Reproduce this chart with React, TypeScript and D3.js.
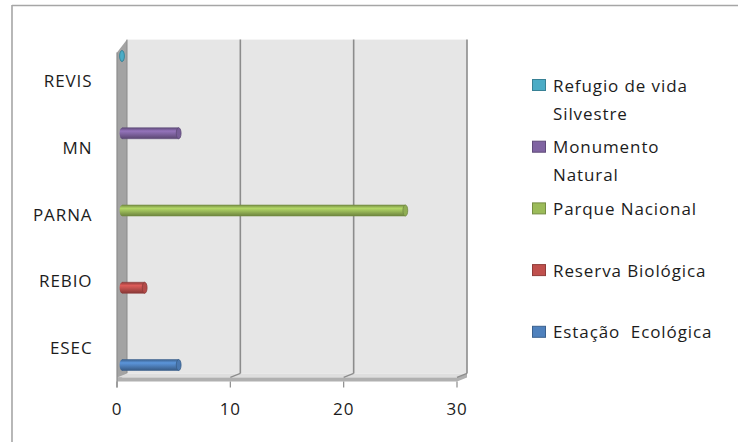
import React from "react";
import * as d3 from "d3";

const categories = ["ESEC", "REBIO", "PARNA", "MN", "REVIS"];
const seriesNames = [
  "Estação  Ecológica",
  "Reserva Biológica",
  "Parque Nacional",
  "Monumento Natural",
  "Refugio de vida Silvestre",
];
const legendLines = [
  ["Estação  Ecológica"],
  ["Reserva Biológica"],
  ["Parque Nacional"],
  ["Monumento", "Natural"],
  ["Refugio de vida", "Silvestre"],
];
const seriesColors = ["#4f81bd", "#c0504d", "#9bbb59", "#8064a2", "#4bacc6"];
// one value per series, in its own category (null = empty cell)
const estacaoValues = [5, null, null, null, null];
const reservaValues = [null, 2, null, null, null];
const parqueValues = [null, null, 25, null, null];
const monumentoValues = [null, null, null, 5, null];
const refugioValues = [null, null, null, null, 0];
const seriesValues = [estacaoValues, reservaValues, parqueValues, monumentoValues, refugioValues];
const xTicks = [0, 10, 20, 30];

const FONT = "'Open Sans', 'Liberation Sans', sans-serif";
const FS = 17;
const LS = 0.9;
const TXT = "#1c1c1c";

export default function App() {
  const W = 738, H = 442;
  const dx = 10, dy = -8; // depth offset (front -> back)
  const x = d3.scaleLinear().domain([0, 30]).range([117, 457]);
  const yTop = 47.6, yBot = 381.4;
  const outer = d3.scaleBand<string>().domain(categories).range([yBot, yTop]).padding(0);
  const inner = d3
    .scaleBand<string>()
    .domain(seriesNames)
    .range([outer.bandwidth(), 0])
    .paddingInner(0)
    .paddingOuter(0.68);
  const barH = 11;
  const rx = 2.4;

  const xb = (v: number) => x(v) + dx;
  const yBack = (y: number) => y + dy;

  return (
    <svg width={W} height={H} style={{ position: "absolute", left: 0, top: 0 }}>
      <defs>
        {seriesColors.map((c, i) => {
          const col = d3.color(c)!;
          return (
            <linearGradient key={i} id={`g${i}`} x1="0" y1="0" x2="0" y2="1">
              <stop offset="0" stopColor={col.darker(0.8).toString()} />
              <stop offset="0.3" stopColor={col.brighter(0.4).toString()} />
              <stop offset="0.55" stopColor={c} />
              <stop offset="1" stopColor={col.darker(1).toString()} />
            </linearGradient>
          );
        })}
      </defs>
      <rect x={0} y={0} width={W} height={H} fill="#fff" />
      {/* outer border */}
      <line x1={12} y1={5.5} x2={W} y2={5.5} stroke="#a6a6a6" strokeWidth={1.6} />
      <line x1={12} y1={5} x2={12} y2={H} stroke="#a6a6a6" strokeWidth={1.6} />

      {/* back wall */}
      <rect x={xb(0)} y={yBack(yTop)} width={xb(30) - xb(0)} height={yBot - yTop} fill="#e6e6e6" />
      {/* side wall */}
      <path
        d={`M${x(0)},${yTop + 5} L${xb(0)},${yBack(yTop)} L${xb(0)},${yBack(yBot)} L${x(0)},${yBot} Z`}
        fill="#a3a3a3"
      />
      <line x1={xb(0)} y1={yBack(yTop)} x2={xb(0)} y2={yBack(yBot)} stroke="#8a8a8a" strokeWidth={1} />
      {/* floor */}
      <path
        d={`M${x(0)},${yBot - 4} L${xb(0)},${yBack(yBot)} L${xb(30)},${yBack(yBot)} L${x(30)},${yBot - 4} Z`}
        fill="#dedede"
      />
      <path
        d={`M${x(0)},${yBot - 4} L${x(30)},${yBot - 4} L${xb(30)},${yBack(yBot)} L${xb(30)},${yBack(yBot) + 4} L${x(30)},${yBot} L${x(0)},${yBot} Z`}
        fill="#b0b0b0"
      />
      {/* gridlines */}
      {xTicks.slice(1).map((t) => (
        <g key={t}>
          <line x1={xb(t)} y1={yBack(yTop)} x2={xb(t)} y2={yBack(yBot)} stroke="#8c8c8c" strokeWidth={1.6} />
          <line x1={xb(t)} y1={yBack(yBot)} x2={x(t)} y2={yBot - 4} stroke="#8c8c8c" strokeWidth={1.2} />
        </g>
      ))}
      {/* axis ticks */}
      <line x1={x(0)} y1={yTop + 5} x2={x(0)} y2={yBot + 6} stroke="#8c8c8c" strokeWidth={1.2} />
      {xTicks.map((t) => (
        <g key={t}>
          <line x1={x(t)} y1={yBot} x2={x(t)} y2={yBot + 6} stroke="#8c8c8c" strokeWidth={1.2} />
          <text x={x(t)} y={415} textAnchor="middle" fontFamily={FONT} fontSize={FS} letterSpacing={LS} fill={TXT}>
            {t}
          </text>
        </g>
      ))}
      {/* category labels */}
      {categories.map((c) => (
        <text
          key={c}
          x={92.5}
          y={outer(c)! + outer.bandwidth() / 2 + 6}
          textAnchor="end"
          fontFamily={FONT}
          fontSize={FS}
          letterSpacing={LS}
          fill={TXT}
        >
          {c}
        </text>
      ))}
      {/* cylinders */}
      {seriesValues.map((vals, si) =>
        vals.map((v, ci) => {
          if (v === null) return null;
          const cy = outer(categories[ci])! + inner(seriesNames[si])! + inner.bandwidth() / 2 + dy / 2;
          const x0 = x(0) + dx / 2;
          const x1 = x(v) + dx / 2;
          const col = d3.color(seriesColors[si])!;
          return (
            <g key={`${si}-${ci}`}>
              <ellipse cx={x0} cy={cy} rx={rx} ry={barH / 2} fill={`url(#g${si})`} />
              {x1 > x0 && <rect x={x0} y={cy - barH / 2} width={x1 - x0} height={barH} fill={`url(#g${si})`} />}
              {x1 > x0 && (
                <path
                  d={`M${x0},${cy - barH / 2} L${x1},${cy - barH / 2} M${x0},${cy + barH / 2} L${x1},${cy + barH / 2}`}
                  stroke={col.darker(0.8).toString()}
                  strokeWidth={0.8}
                  strokeOpacity={0.7}
                />
              )}
              <ellipse
                cx={x1}
                cy={cy}
                rx={rx}
                ry={barH / 2}
                fill={v === 0 ? seriesColors[si] : col.darker(0.2).toString()}
                stroke={col.darker(0.9).toString()}
                strokeWidth={0.8}
              />
            </g>
          );
        })
      )}
      {/* legend */}
      {legendLines.map((lines, i) => {
        const idx = legendLines.length - 1 - i; // display top to bottom reversed
        const top = 79 + idx * 61.7;
        const col = d3.color(seriesColors[i])!;
        return (
          <g key={i}>
            <rect
              x={532.5}
              y={top + 0.5}
              width={13}
              height={11}
              fill={seriesColors[i]}
              stroke={col.darker(0.8).toString()}
              strokeWidth={1}
            />
            {lines.map((ln, li) => (
              <text
                key={li}
                x={553}
                y={top + 12.5 + li * 28}
                fontFamily={FONT}
                fontSize={FS}
                letterSpacing={LS}
                fill={TXT}
                style={{ whiteSpace: "pre" }}
              >
                {ln}
              </text>
            ))}
          </g>
        );
      })}
    </svg>
  );
}
